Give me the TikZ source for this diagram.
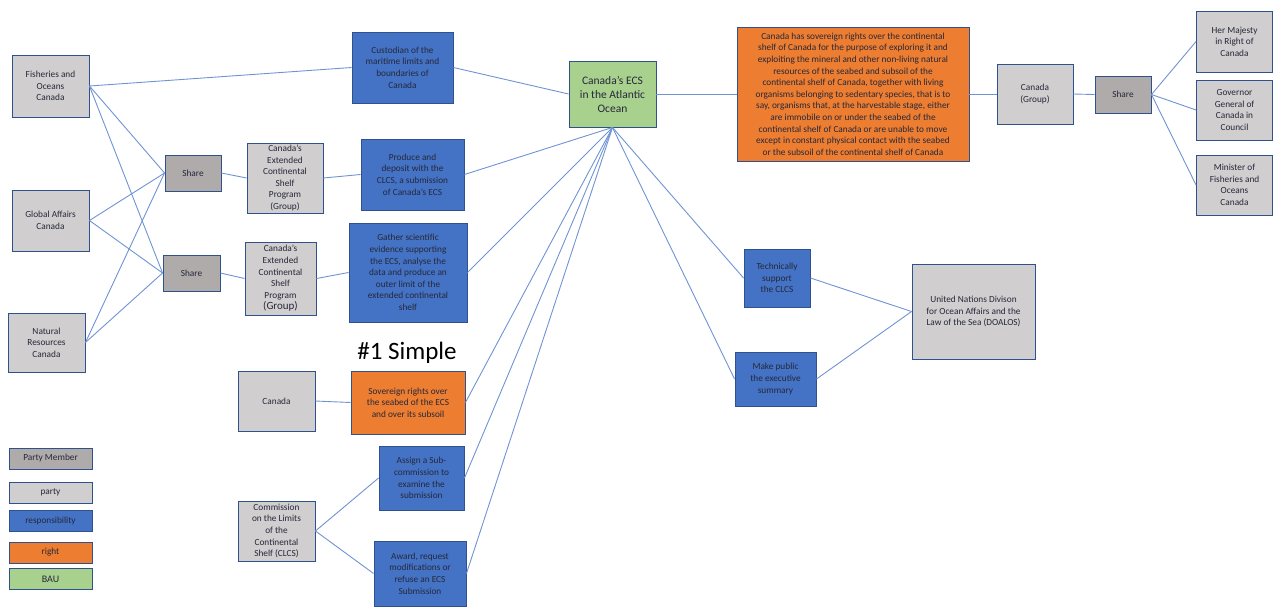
\documentclass[tikz,border=0pt]{standalone}
\usepackage{fontspec}
\setmainfont{Carlito}
\definecolor{ptygray}{HTML}{D0CECE}
\definecolor{mbrgray}{HTML}{AFABAB}
\definecolor{respblue}{HTML}{4472C4}
\definecolor{rgtorange}{HTML}{ED7D31}
\definecolor{baugreen}{HTML}{A9D18E}
\definecolor{boxline}{HTML}{2F528F}
\definecolor{linkblue}{HTML}{7093D4}
\definecolor{txt}{HTML}{26283A}
\begin{document}
\begin{tikzpicture}[
			x=1pt, y=-1pt,
			box/.style={draw=boxline, line width=0.9pt, inner sep=1pt, align=center, text=txt,
				font=\fontsize{9.3}{11.6}\selectfont},
			sz/.style 2 args={minimum width=#1, minimum height=#2},
			pty/.style={box, fill=ptygray},
			mbr/.style={box, fill=mbrgray},
			resp/.style={box, fill=respblue},
			rgt/.style={box, fill=rgtorange},
			bau/.style={box, fill=baugreen},
			link/.style={draw=linkblue, line width=0.9pt}
			]
			\useasboundingbox (0,0) rectangle (1273,606);
			% parties on the left
			\node[pty, sz={77}{62}] (foc) at (50.5,86) {Fisheries and\\Oceans\\Canada};
			\node[pty, sz={77}{61}] (gac) at (50.5,220.5) {Global Affairs\\Canada};
			\node[pty, sz={77}{59}] (nrc) at (46.5,342.5) {Natural\\Resources\\Canada};
			\node[mbr, sz={56}{36}] (sh1) at (193,173) {Share};
			\node[mbr, sz={57}{36}] (sh2) at (191.5,273) {Share};
			\node[pty, sz={76}{70}] (ecsp1) at (285,178) {Canada's\\Extended\\Continental\\Shelf\\Program\\(Group)};
			\node[pty, sz={71}{73}] (ecsp2) at (280.5,278.5) {Canada's\\Extended\\Continental\\Shelf\\Program\\{\fontsize{11}{12}\selectfont(Group)}};
			% responsibilities
			\node[resp, sz={101}{71}] (cust) at (402.5,67.5) {Custodian of the\\maritime limits and\\boundaries of\\Canada};
			\node[resp, sz={103}{71}] (prod) at (412.5,174.5) {Produce and\\deposit with the\\CLCS, a submission\\of Canada's ECS};
			\node[resp, sz={118}{99}] (gath) at (408,272.5) {Gather scientific\\evidence supporting\\the ECS, analyse the\\data and produce an\\outer limit of the\\extended continental\\shelf};
			\node[font=\fontsize{25}{28}\selectfont, text=black] (ttl) at (407,353) {\#1 Simple};
			\node[pty, sz={77}{60}] (can) at (276.5,401) {Canada};
			\node[rgt, sz={114}{63}] (sov) at (408,402.5) {Sovereign rights over\\the seabed of the ECS\\and over its subsoil};
			\node[pty, sz={77}{60}] (clcs) at (276.5,531) {Commission\\on the Limits\\of the\\Continental\\Shelf (CLCS)};
			\node[resp, sz={85}{64}] (asgn) at (421.5,478) {Assign a Sub-\\commission to\\examine the\\submission};
			\node[resp, sz={92}{65}] (awrd) at (420,573.5) {Award, request\\modifications or\\refuse an ECS\\Submission};
			% the ECS
			\node[bau, sz={87}{66}, font=\fontsize{11.5}{14}\selectfont] (ecs) at (612.5,94) {Canada's ECS\\in the Atlantic\\Ocean};
			\node[rgt, sz={232}{134}] (big) at (853,94) {Canada has sovereign rights over the continental\\shelf of Canada for the purpose of exploring it and\\exploiting the mineral and other non-living natural\\resources of the seabed and subsoil of the\\continental shelf of Canada, together with living\\organisms belonging to sedentary species, that is to\\say, organisms that, at the harvestable stage, either\\are immobile on or under the seabed of the\\continental shelf of Canada or are unable to move\\except in constant physical contact with the seabed\\or the subsoil of the continental shelf of Canada};
			\node[pty, sz={76}{60}] (cgrp) at (1035,94) {Canada\\(Group)};
			\node[mbr, sz={56}{37}] (sh3) at (1123,94.5) {Share};
			\node[pty, sz={76}{61}] (hm) at (1234.5,41.5) {Her Majesty\\in Right of\\Canada};
			\node[pty, sz={76}{60}] (gg) at (1234.5,110) {Governor\\General of\\Canada in\\Council};
			\node[pty, sz={76}{60}] (mfo) at (1234.5,185) {Minister of\\Fisheries and\\Oceans\\Canada};
			\node[resp, sz={66}{58}] (tech) at (777,278) {Technically\\support\\the CLCS};
			\node[resp, sz={81}{54}] (pub) at (775.5,379) {Make public\\the executive\\summary};
			\node[pty, sz={123}{95}] (un) at (973.5,311.5) {United Nations Divison\\for Ocean Affairs and the\\Law of the Sea (DOALOS)};
			% legend
			\node[mbr, sz={83}{21}] (lg1) at (50.5,458.5) {Party Member};
			\node[pty, sz={83}{21}] (lg2) at (50.5,492.5) {party};
			\node[resp, sz={83}{21}] (lg3) at (50.5,521) {responsibility};
			\node[rgt, sz={83}{21}] (lg4) at (50.5,552.5) {right};
			\node[bau, sz={83}{21}, font=\fontsize{10}{11}\selectfont] (lg5) at (50.5,579) {BAU};
			% connectors
			\draw[link] (foc.east) -- (cust.west);
			\foreach \p in {foc,gac,nrc} {
				\draw[link] (\p.east) -- (sh1.west);
				\draw[link] (\p.east) -- (sh2.west);
			}
			\draw[link] (sh1.east) -- (ecsp1.west);
			\draw[link] (ecsp1.east) -- (prod.west);
			\draw[link] (sh2.east) -- (ecsp2.west);
			\draw[link] (ecsp2.east) -- (gath.west);
			\draw[link] (can.east) -- (sov.west);
			\draw[link] (clcs.east) -- (asgn.west);
			\draw[link] (clcs.east) -- (awrd.west);
			\draw[link] (cust.east) -- (ecs.west);
			\foreach \r in {prod,gath,sov,asgn,awrd}
				\draw[link] (\r.east) -- (ecs.south);
			\draw[link] (ecs.south) -- (tech.west);
			\draw[link] (ecs.south) -- (pub.west);
			\draw[link] (tech.east) -- (un.west);
			\draw[link] (pub.east) -- (un.west);
			\draw[link] (ecs.east) -- (big.west);
			\draw[link] (big.east) -- (cgrp.west);
			\draw[link] (cgrp.east) -- (sh3.west);
			\draw[link] (sh3.east) -- (hm.west);
			\draw[link] (sh3.east) -- (gg.west);
			\draw[link] (sh3.east) -- (mfo.west);
		\end{tikzpicture}
\end{document}
